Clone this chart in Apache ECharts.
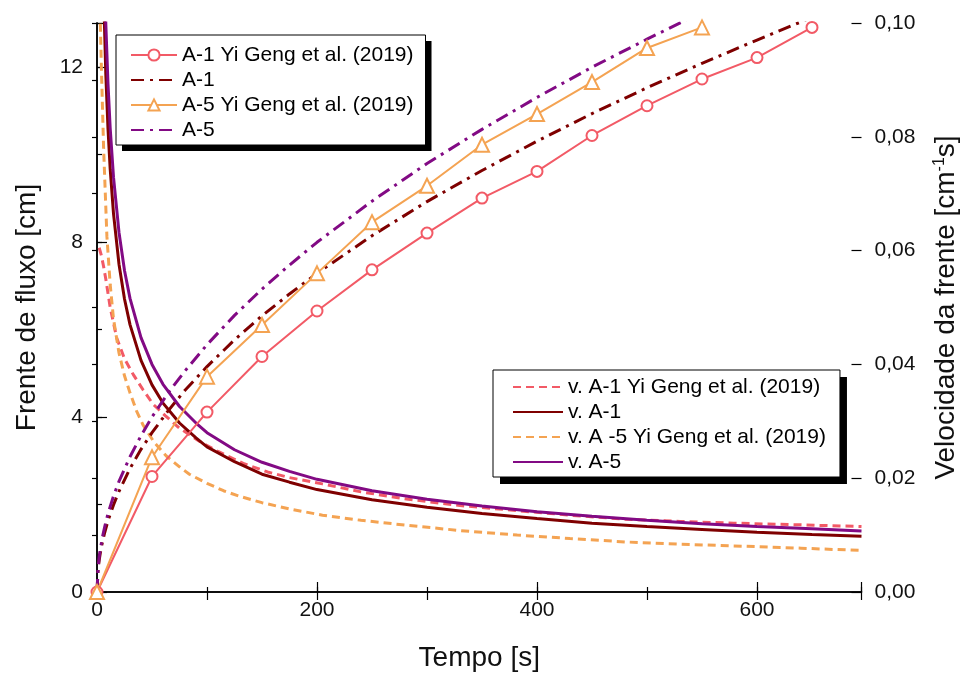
<!DOCTYPE html>
<html>
<head>
<meta charset="utf-8">
<script src="https://cdn.jsdelivr.net/npm/echarts@6/dist/echarts.min.js"></script>
<style>
  html, body { margin: 0; padding: 0; background: #fff; }
  #chart { width: 968px; height: 677px; }
</style>
</head>
<body>
<div id="chart"></div>
<script>
// Flow front position (cm) — Yi Geng et al. (2019), sampled every 50 s
const timeYG1 = [0, 50, 100, 150, 200, 250, 300, 350, 400, 450, 500, 550, 600, 650];
const frontA1YG = [0, 2.64, 4.11, 5.38, 6.42, 7.36, 8.20, 9.00, 9.61, 10.43, 11.11, 11.72, 12.21, 12.90];
const timeYG5 = [0, 50, 100, 150, 200, 250, 300, 350, 400, 450, 500, 550];
const frontA5YG = [0, 3.08, 4.92, 6.10, 7.28, 8.45, 9.28, 10.22, 10.92, 11.65, 12.43, 12.90];

// Flow front position (cm) — present model
const timeSim = [0, 1, 2, 3, 5, 7, 10, 15, 20, 30, 40, 50, 65, 80, 100, 125, 150, 175, 200, 250, 300, 350, 400, 450, 500, 550, 600, 650, 695];
const frontA1 = [0, 0.52, 0.73, 0.89, 1.15, 1.36, 1.63, 1.99, 2.30, 2.82, 3.26, 3.64, 4.15, 4.61, 5.15, 5.76, 6.31, 6.81, 7.28, 8.14, 8.92, 9.63, 10.30, 10.93, 11.52, 12.08, 12.61, 13.13, 13.58];
const frontA5 = [0, 0.57, 0.80, 0.98, 1.26, 1.49, 1.79, 2.19, 2.53, 3.09, 3.57, 4.00, 4.56, 5.05, 5.65, 6.32, 6.92, 7.47, 7.99, 8.93, 9.79, 10.57, 11.30, 11.99, 12.63, 13.25, 13.84, 14.40, 14.90];

// Front velocity — present model
const timeVel = [3, 4, 5, 6, 8, 10, 12, 15, 20, 25, 30, 40, 50, 60, 75, 90, 100, 125, 150, 175, 200, 250, 300, 350, 400, 450, 500, 550, 600, 650, 695];
const velA1 = [0.1487, 0.1288, 0.1152, 0.1051, 0.0910, 0.0814, 0.0743, 0.0665, 0.0576, 0.0515, 0.0470, 0.0407, 0.0364, 0.0332, 0.0297, 0.0271, 0.0255, 0.0229, 0.0207, 0.0193, 0.0180, 0.0162, 0.0149, 0.0138, 0.0129, 0.0121, 0.0115, 0.0110, 0.0105, 0.0101, 0.0098];
const velA5 = [0.1630, 0.1413, 0.1263, 0.1153, 0.0999, 0.0893, 0.0815, 0.0729, 0.0632, 0.0565, 0.0516, 0.0447, 0.0400, 0.0365, 0.0326, 0.0297, 0.0280, 0.0250, 0.0228, 0.0212, 0.0198, 0.0178, 0.0163, 0.0151, 0.0141, 0.0133, 0.0126, 0.0120, 0.0115, 0.0111, 0.0107];

// Front velocity — Yi Geng et al. (2019)
const timeVelYG1 = [2, 4, 6, 8, 12, 18, 25, 33, 42, 51, 62, 75, 93, 110, 133, 155, 175, 205, 240, 283, 330, 382, 430, 480, 530, 579, 640, 695];
const velA1YG = [0.0605, 0.0591, 0.0572, 0.0550, 0.0500, 0.0446, 0.0410, 0.0382, 0.0355, 0.0330, 0.0310, 0.0288, 0.0265, 0.0247, 0.0226, 0.0211, 0.0201, 0.0190, 0.0176, 0.0163, 0.0152, 0.0143, 0.0135, 0.0128, 0.0124, 0.0121, 0.0118, 0.0115];
const timeVelYG5 = [2, 3, 4, 6, 9, 12, 15, 20, 25, 30, 36, 42, 52, 63, 75, 84, 100, 115, 130, 150, 175, 205, 240, 283, 330, 382, 430, 480, 530, 579, 640, 695];
const velA5YG = [0.125, 0.100, 0.092, 0.078, 0.0625, 0.054, 0.048, 0.042, 0.038, 0.0350, 0.0318, 0.0293, 0.0263, 0.0239, 0.0220, 0.0207, 0.0191, 0.0178, 0.0168, 0.0157, 0.0146, 0.0135, 0.0126, 0.0117, 0.0108, 0.0100, 0.0094, 0.0088, 0.0084, 0.0081, 0.0077, 0.0073];

// Axis tick labels
const xTickLabels = [0, 200, 400, 600];
const leftTickLabels = [0, 4, 8, 12];
const rightTickLabels = ['0,00', '0,02', '0,04', '0,06', '0,08', '0,10'];

// Legend entries
const frontLegendNames = ['A-1 Yi Geng et al. (2019)', 'A-1', 'A-5 Yi Geng et al. (2019)', 'A-5'];
const velLegendNames = ['v. A-1 Yi Geng et al. (2019)', 'v. A-1', 'v. A -5 Yi Geng et al. (2019)', 'v. A-5'];

const FONT = '"Liberation Sans", Arial, sans-serif';
const RED = '#F25A66', DARKRED = '#7F0000', ORANGE = '#F4A352', PURPLE = '#820A84';

const pairs = (xs, ys) => xs.map((x, i) => [x, ys[i]]);

const axisLineStyle = { show: true, lineStyle: { color: '#000', width: 1.5 } };
const labelStyle = { fontSize: 21, fontFamily: FONT, color: '#111' };
const titleStyle = { fontSize: 28, fontFamily: FONT, color: '#111' };
const hidden = { color: 'rgba(0,0,0,0)', borderColor: 'rgba(0,0,0,0)', opacity: 0 };
const withMarker = new Set(['A-1 Yi Geng et al. (2019)', 'A-5 Yi Geng et al. (2019)']);

const chart = echarts.init(document.getElementById('chart'), null, { renderer: 'canvas' });

// Each legend box is drawn as two layers: a filled box casting a hard
// black drop shadow (with the entries), and an outlined frame on top.
function legendPair(names, geom) {
  const base = {
    orient: 'vertical', selectedMode: false, borderRadius: 0,
    itemGap: 3, itemHeight: 14,
    left: geom.left, top: geom.top, itemWidth: geom.itemWidth, padding: geom.padding
  };
  const text = { fontSize: 21, fontFamily: FONT, lineHeight: 22 };
  return [
    Object.assign({}, base, {
      z: 4,
      backgroundColor: '#fff', borderWidth: 0,
      shadowColor: '#000', shadowBlur: 0, shadowOffsetX: geom.shadow, shadowOffsetY: geom.shadow,
      textStyle: Object.assign({ color: '#000' }, text),
      data: names.map(n => withMarker.has(n) ? { name: n } : { name: n, itemStyle: hidden })
    }),
    Object.assign({}, base, {
      z: 5,
      backgroundColor: 'rgba(0,0,0,0)', borderColor: '#000', borderWidth: 1,
      textStyle: Object.assign({ color: 'rgba(0,0,0,0)' }, text),
      itemStyle: { opacity: 0 }, lineStyle: { opacity: 0 },
      data: names.map(n => ({ name: n, itemStyle: hidden, lineStyle: { opacity: 0 } }))
    })
  ];
}

chart.setOption({
  animation: false,
  backgroundColor: '#fff',
  grid: { left: 97, right: 105, top: 23, bottom: 82, containLabel: false },
  legend: [].concat(
    legendPair(frontLegendNames, { left: 116, top: 35, itemWidth: 46, padding: [9, 12, 4, 14], shadow: 6 }),
    legendPair(velLegendNames, { left: 493, top: 370, itemWidth: 50, padding: [6, 14, 4, 19], shadow: 7 })
  ),
  xAxis: [
    {
      type: 'value', position: 'bottom', min: 0, max: 695, interval: 100,
      axisLine: axisLineStyle,
      axisTick: { show: true, inside: true, length: 5, lineStyle: { color: '#000', width: 1.2 } },
      splitLine: { show: false },
      axisLabel: Object.assign({ margin: 8, formatter: v => xTickLabels.includes(v) ? String(v) : '' }, labelStyle),
      name: 'Tempo [s]', nameLocation: 'middle', nameGap: 52,
      nameTextStyle: titleStyle
    },
    {
      type: 'value', position: 'bottom', min: 0, max: 695, interval: 200,
      axisLine: { show: false },
      axisTick: { show: true, inside: true, length: 10, lineStyle: { color: '#000', width: 1.2 } },
      splitLine: { show: false }, axisLabel: { show: false }
    },
    {
      type: 'value', position: 'top', min: 0, max: 695, interval: 100,
      axisLine: axisLineStyle,
      axisTick: { show: true, inside: true, length: 8, lineStyle: { color: '#000', width: 1.2 } },
      splitLine: { show: false }, axisLabel: { show: false }
    }
  ],
  yAxis: [
    {
      type: 'value', position: 'left', min: 0, max: 13, interval: 2,
      axisLine: axisLineStyle,
      axisTick: { show: true, inside: true, length: 5, lineStyle: { color: '#000', width: 1.2 } },
      splitLine: { show: false },
      axisLabel: Object.assign({ margin: 14, formatter: v => leftTickLabels.includes(v) ? String(v) : '' }, labelStyle),
      name: 'Frente de fluxo [cm]', nameLocation: 'middle', nameGap: 56,
      nameTextStyle: titleStyle
    },
    {
      type: 'value', position: 'right', min: 0, max: 0.1, interval: 0.01,
      axisLine: axisLineStyle,
      axisTick: { show: true, inside: true, length: 5, lineStyle: { color: '#000', width: 1.2 } },
      splitLine: { show: false },
      axisLabel: Object.assign({
        margin: 13,
        formatter: v => { const k = Math.round(v * 100); return k % 2 === 0 ? rightTickLabels[k / 2] : ''; }
      }, labelStyle),
      name: 'Velocidade da frente [cm{sup|-1}s]', nameLocation: 'middle', nameGap: 70,
      nameTextStyle: Object.assign({
        rich: { sup: { fontSize: 16, fontFamily: FONT, color: '#111', padding: [0, 0, 13, 0] } }
      }, titleStyle)
    },
    {
      type: 'value', position: 'left', min: 0, max: 13, interval: 4,
      axisLine: { show: false },
      axisTick: { show: true, inside: true, length: 10, lineStyle: { color: '#000', width: 1.2 } },
      splitLine: { show: false }, axisLabel: { show: false }
    },
    {
      type: 'value', position: 'right', min: 0, max: 0.1, interval: 0.02,
      axisLine: { show: false },
      axisTick: { show: true, inside: true, length: 10, lineStyle: { color: '#000', width: 1.2 } },
      splitLine: { show: false }, axisLabel: { show: false }
    }
  ],
  series: [
    {
      name: 'v. A-1 Yi Geng et al. (2019)', type: 'line', yAxisIndex: 1, clip: true,
      data: pairs(timeVelYG1, velA1YG), showSymbol: false, symbol: 'none', color: RED,
      lineStyle: { color: RED, width: 3, type: [8, 5] }
    },
    {
      name: 'v. A -5 Yi Geng et al. (2019)', type: 'line', yAxisIndex: 1, clip: true,
      data: pairs(timeVelYG5, velA5YG), showSymbol: false, symbol: 'none', color: ORANGE,
      lineStyle: { color: ORANGE, width: 3, type: [8, 5] }
    },
    {
      name: 'v. A-1', type: 'line', yAxisIndex: 1, clip: true,
      data: pairs(timeVel, velA1), showSymbol: false, symbol: 'none', color: DARKRED,
      lineStyle: { color: DARKRED, width: 3 }
    },
    {
      name: 'v. A-5', type: 'line', yAxisIndex: 1, clip: true,
      data: pairs(timeVel, velA5), showSymbol: false, symbol: 'none', color: PURPLE,
      lineStyle: { color: PURPLE, width: 3 }
    },
    {
      name: 'A-1', type: 'line', yAxisIndex: 0, clip: true,
      data: pairs(timeSim, frontA1), showSymbol: false, symbol: 'none', color: DARKRED,
      lineStyle: { color: DARKRED, width: 3, type: [13, 6, 3, 6] }
    },
    {
      name: 'A-5', type: 'line', yAxisIndex: 0, clip: true,
      data: pairs(timeSim, frontA5), showSymbol: false, symbol: 'none', color: PURPLE,
      lineStyle: { color: PURPLE, width: 3, type: [13, 6, 3, 6] }
    },
    {
      name: 'A-1 Yi Geng et al. (2019)', type: 'line', yAxisIndex: 0, clip: true,
      data: pairs(timeYG1, frontA1YG), symbol: 'emptyCircle', symbolSize: 11, showAllSymbol: true,
      color: RED, itemStyle: { color: RED, borderColor: RED, borderWidth: 2.5 },
      lineStyle: { color: RED, width: 2 }
    },
    {
      name: 'A-5 Yi Geng et al. (2019)', type: 'line', yAxisIndex: 0, clip: true,
      data: pairs(timeYG5, frontA5YG), symbol: 'emptyTriangle', symbolSize: 14, showAllSymbol: true,
      color: ORANGE, itemStyle: { color: ORANGE, borderColor: ORANGE, borderWidth: 2 },
      lineStyle: { color: ORANGE, width: 2 }
    }
  ]
});
</script>
</body>
</html>
